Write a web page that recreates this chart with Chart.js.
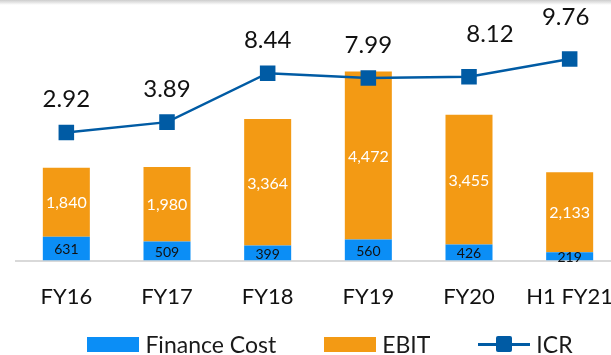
<!DOCTYPE html>
<html>
<head>
<meta charset="utf-8">
<script src="https://cdn.jsdelivr.net/npm/chart.js@4/dist/chart.umd.min.js"></script>
<style>
  html, body { margin: 0; padding: 0; background: #fff; overflow: hidden; }
  #wrap { position: relative; width: 660px; height: 355px; }
  #topEdge { position: absolute; left: 0; top: 0; width: 100%; height: 5px;
    background: linear-gradient(#cdcdcd, rgba(255,255,255,0)); z-index: 2; }
  #chart { position: absolute; left: 0; top: 0; }
  #legend { position: absolute; left: 0; top: 331px; width: 660px; height: 26px;
    display: flex; justify-content: center; align-items: center;
    font-family: Lato, sans-serif; font-size: 23px; color: #1a1a1a; }
  .item { display: flex; align-items: center; margin: 0 24px; }
  .swatch { width: 52px; height: 15px; margin-right: 6px; }
  .lineSwatch { position: relative; width: 52px; height: 16px; margin-right: 6px; }
  .lineSwatch i { position: absolute; left: 0; right: 0; top: 7px; height: 2.5px; }
  .lineSwatch b { position: absolute; left: 18px; top: 0; width: 16px; height: 16px; border-radius: 2px; }
</style>
</head>
<body>
<div id="wrap">
  <div id="topEdge"></div>
  <canvas id="chart" width="660" height="333"></canvas>
  <div id="legend"></div>
</div>
<script>
  // Periods and figures
  const periods = ['FY16', 'FY17', 'FY18', 'FY19', 'FY20', 'H1 FY21'];
  const financeCost = [631, 509, 399, 560, 426, 219];
  const ebit = [1840, 1980, 3364, 4472, 3455, 2133];
  const icr = [2.92, 3.89, 8.44, 7.99, 8.12, 9.76];

  const BLUE = '#0B8EF6';
  const ORANGE = '#F39A14';
  const NAVY = '#005BA4';
  const FONT = 'Lato, sans-serif';

  // a couple of ICR labels sit a bit off their markers
  const icrLabelNudge = [[0, 0], [0, 0], [0, 0], [0, 0], [21, -9], [-4, -9]];

  const valueLabels = {
    id: 'valueLabels',
    afterDatasetsDraw(chart) {
      const ctx = chart.ctx;
      ctx.save();
      ctx.textAlign = 'center';
      ctx.textBaseline = 'middle';
      chart.data.datasets.forEach((ds, i) => {
        const meta = chart.getDatasetMeta(i);
        meta.data.forEach((el, j) => {
          const v = ds.data[j];
          if (ds.type === 'line') {
            const [dx, dy] = icrLabelNudge[j];
            ctx.font = '24px ' + FONT;
            ctx.fillStyle = '#111';
            ctx.fillText(v.toFixed(2), el.x + dx, el.y - 33 + dy);
          } else {
            const mid = (el.y + el.base) / 2;
            if (ds.label === 'EBIT') {
              ctx.font = '16px ' + FONT;
              ctx.fillStyle = '#fff';
            } else {
              ctx.font = '14px ' + FONT;
              ctx.fillStyle = '#111';
            }
            ctx.fillText(v.toLocaleString('en-US'), el.x, mid + 1);
          }
        });
      });
      ctx.restore();
    }
  };

  const chart = new Chart(document.getElementById('chart'), {
    data: {
      labels: periods,
      datasets: [
        { type: 'line', label: 'ICR', data: icr, yAxisID: 'y2', order: 0,
          borderColor: NAVY, borderWidth: 2.5, backgroundColor: NAVY,
          pointStyle: 'rect', pointRadius: 11, pointHoverRadius: 11,
          pointBackgroundColor: NAVY, pointBorderWidth: 0, tension: 0 },
        { type: 'bar', label: 'Finance Cost', data: financeCost, yAxisID: 'y', order: 1,
          backgroundColor: BLUE, categoryPercentage: 1, barPercentage: 0.467 },
        { type: 'bar', label: 'EBIT', data: ebit, yAxisID: 'y', order: 1,
          backgroundColor: ORANGE, categoryPercentage: 1, barPercentage: 0.467 }
      ]
    },
    options: {
      responsive: false,
      animation: false,
      layout: { padding: { top: 35, left: 16, right: 40, bottom: 0 } },
      plugins: { legend: { display: false }, tooltip: { enabled: false } },
      scales: {
        x: {
          stacked: true,
          grid: { display: false, drawTicks: false },
          border: { display: true, color: '#d9d9d9', width: 2 },
          ticks: { color: '#111', padding: 23, font: { family: FONT, size: 22 } }
        },
        y: { stacked: true, display: false, min: 0, max: 6000 },
        y2: { display: false, position: 'right', min: -9, max: 12 }
      }
    },
    plugins: [valueLabels]
  });

  // legend below the plot, in the order bars then line
  const legend = document.getElementById('legend');
  ['Finance Cost', 'EBIT', 'ICR'].forEach(name => {
    const ds = chart.data.datasets.find(d => d.label === name);
    const item = document.createElement('div');
    item.className = 'item';
    if (ds.type === 'line') {
      item.innerHTML = `<span class="lineSwatch"><i style="background:${ds.borderColor}"></i>` +
        `<b style="background:${ds.pointBackgroundColor}"></b></span><span>${name}</span>`;
    } else {
      item.innerHTML = `<span class="swatch" style="background:${ds.backgroundColor}"></span><span>${name}</span>`;
    }
    legend.appendChild(item);
  });
</script>
</body>
</html>
